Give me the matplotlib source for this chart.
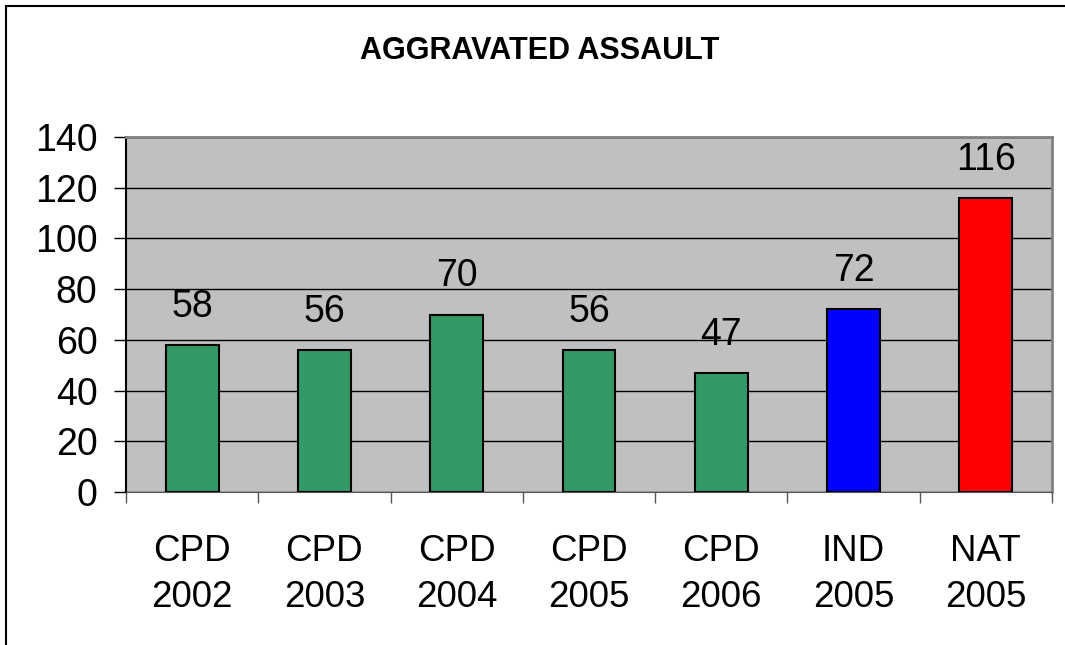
import numpy as np
import matplotlib.pyplot as plt
from matplotlib.patches import Rectangle

labels = ['CPD\n2002', 'CPD\n2003', 'CPD\n2004', 'CPD\n2005', 'CPD\n2006', 'IND\n2005', 'NAT\n2005']
values = [58, 56, 70, 56, 47, 72, 116]
colors = ['#339966', '#339966', '#339966', '#339966', '#339966', '#0000FF', '#FF0000']

plt.rcParams['font.family'] = ['Liberation Sans', 'DejaVu Sans']

fig = plt.figure(figsize=(10.65, 6.45), dpi=100)
ax = fig.add_axes([126/1065, 1 - 492/645, (1052-126)/1065, (492-137)/645])

# outer chart border (cut off on right and bottom)
fig.patches.append(Rectangle((6/1065, -0.1), 1.2, 1 - 6/645 + 0.1,
                             transform=fig.transFigure, fill=False,
                             edgecolor='black', linewidth=1.5))

x = np.arange(len(values))
ax.set_facecolor('#C0C0C0')
ax.bar(x, values, width=0.4, color=colors, edgecolor='black', linewidth=1.5, zorder=3)

for xi, v in zip(x, values):
    ax.annotate(str(v), (xi, v), xytext=(0, 27.5), textcoords='offset points',
                ha='center', va='center', fontsize=27)

ax.set_xlim(-0.5, len(values) - 0.5)
ax.set_ylim(0, 140)
ax.set_yticks(range(0, 141, 20))
ax.yaxis.grid(True, color='black', linewidth=1)
ax.set_axisbelow(True)
ax.tick_params(axis='y', labelsize=27, length=8.5, width=1, direction='out', pad=12)

ax.set_xticks(x)
ax.set_xticklabels(labels, fontsize=26.5, linespacing=1.42)
ax.set_xticks(np.arange(-0.5, len(values)), minor=True)
ax.tick_params(axis='x', which='major', length=0, pad=30)
ax.tick_params(axis='x', which='minor', length=8, width=1, color='#555555')

ax.spines['left'].set_color('black')
ax.spines['left'].set_linewidth(1.5)
ax.spines['bottom'].set_color('#555555')
ax.spines['top'].set_color('#808080')
ax.spines['top'].set_linewidth(2)
ax.spines['right'].set_color('#808080')
ax.spines['right'].set_linewidth(2)

fig.text(540/1065, 1 - 51/645, 'AGGRAVATED ASSAULT', ha='center', va='center',
         fontsize=22, fontweight='bold')

fig.savefig('out.png', dpi=100)
